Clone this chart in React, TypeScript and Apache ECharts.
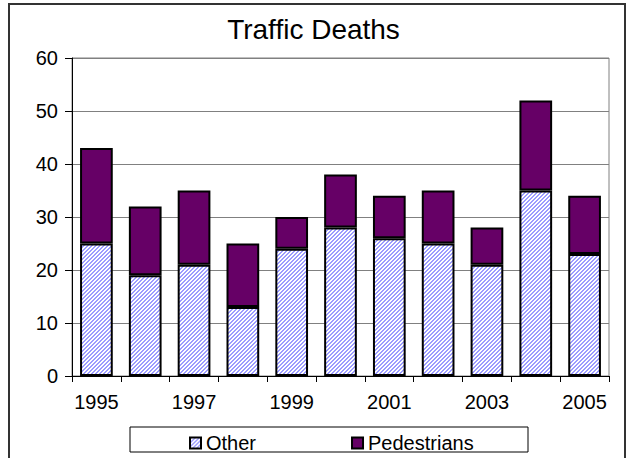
import React, { useEffect, useRef } from 'react';
import * as echarts from 'echarts';

const years = ['1995', '1996', '1997', '1998', '1999', '2000', '2001', '2002', '2003', '2004', '2005'];
const other = [25, 19, 21, 13, 24, 28, 26, 25, 21, 35, 23];
const pedestrians = [18, 13, 14, 12, 6, 10, 8, 10, 7, 17, 11];
const yMin = 0;
const yMax = 60;
const yStep = 10;

const FONT = 'Liberation Sans, Arial, sans-serif';

export default function App() {
  const ref = useRef<HTMLDivElement>(null);
  useEffect(() => {
    if (!ref.current) return;
    const c = document.createElement('canvas');
    c.width = 4;
    c.height = 4;
    const ctx = c.getContext('2d')!;
    ctx.fillStyle = '#ffffff';
    ctx.fillRect(0, 0, 4, 4);
    ctx.fillStyle = '#9c9cff';
    for (let x = 0; x < 4; x++) {
      for (let y = 0; y < 4; y++) {
        if ((x + y) % 4 < 2) ctx.fillRect(x, y, 1, 1);
      }
    }
    const hatch: any = { image: c, repeat: 'repeat' };

    const chart = echarts.init(ref.current, null, { renderer: 'svg' });
    chart.setOption({
      animation: false,
      backgroundColor: '#ffffff',
      title: {
        text: 'Traffic Deaths',
        left: 'center',
        top: 10,
        textStyle: { fontFamily: FONT, fontSize: 28, fontWeight: 'normal', color: '#000' },
      },
      grid: {
        left: 72,
        right: 18,
        top: 58,
        bottom: 82,
        show: true,
        borderColor: '#808080',
        borderWidth: 1,
      },
      legend: {
        left: 184,
        top: 428,
        itemWidth: 11,
        itemHeight: 11,
        itemGap: 95,
        icon: 'rect',
        textStyle: { fontFamily: FONT, fontSize: 20, color: '#000' },
        data: ['Other', 'Pedestrians'],
      },
      xAxis: {
        type: 'category',
        data: years,
        axisLine: { lineStyle: { color: '#000', width: 1 } },
        axisTick: { show: true, interval: 0, length: 6, lineStyle: { color: '#000' } },
        axisLabel: { interval: 1, fontFamily: FONT, fontSize: 20, color: '#000', margin: 16 },
      },
      yAxis: {
        type: 'value',
        min: yMin,
        max: yMax,
        interval: yStep,
        axisLine: { show: true, lineStyle: { color: '#000', width: 1 } },
        axisTick: { show: true, length: 7, lineStyle: { color: '#000' } },
        axisLabel: { fontFamily: FONT, fontSize: 20, color: '#000', margin: 14 },
        splitLine: { lineStyle: { color: '#808080', width: 1 } },
      },
      graphic: [
        {
          type: 'rect',
          shape: { x: 9, y: 4, width: 616, height: 470 },
          style: { fill: 'none', stroke: '#333', lineWidth: 2 },
          z: 100,
        },
        {
          type: 'rect',
          shape: { x: 130, y: 427, width: 398, height: 25 },
          style: { fill: 'none', stroke: '#000', lineWidth: 1 },
          z: 100,
        },
      ],
      series: [
        {
          name: 'Other',
          type: 'bar',
          stack: 'total',
          barWidth: '67%',
          data: other,
          itemStyle: { color: hatch, borderColor: '#000', borderWidth: 2 },
        },
        {
          name: 'Pedestrians',
          type: 'bar',
          stack: 'total',
          barWidth: '67%',
          data: pedestrians,
          itemStyle: { color: '#660066', borderColor: '#000', borderWidth: 2 },
        },
      ],
    });
    return () => chart.dispose();
  }, []);
  return (
    <div style={{ position: 'absolute', left: 0, top: 0, width: 627, height: 458, background: '#fff' }}>
      <div ref={ref} style={{ width: 627, height: 458 }} />
    </div>
  );
}
